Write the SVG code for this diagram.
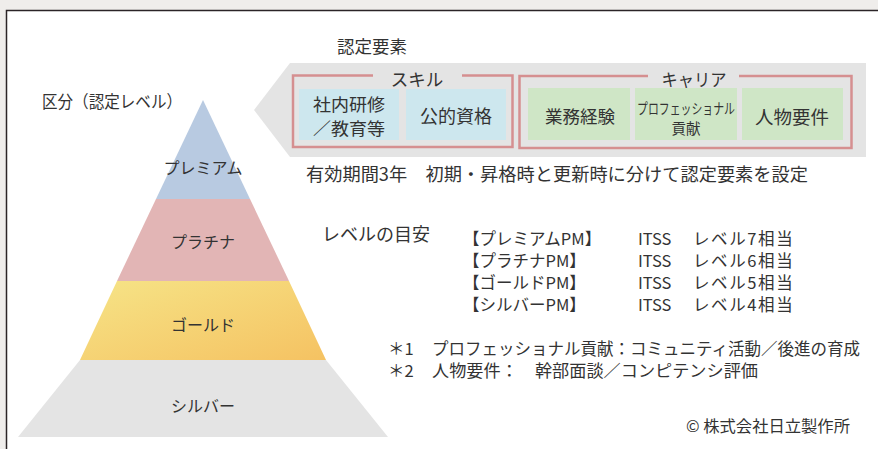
<svg xmlns="http://www.w3.org/2000/svg" width="878" height="449" viewBox="0 0 878 449">
<defs>
<linearGradient id="gold" x1="0" y1="0" x2="1" y2="1">
<stop offset="0" stop-color="#f6e487"/>
<stop offset="1" stop-color="#f5c262"/>
</linearGradient>
<style>
text{font-family:"Noto Sans CJK JP","Noto Sans",sans-serif;fill:#333;dominant-baseline:central}
.c{text-anchor:middle}
.frame{fill:none;stroke:#d58f90;stroke-width:2.5}
.skill{fill:#cde7ee}
.career{fill:#cfe6c6}
.t18{font-size:18px}
.t17{font-size:17px}
.t16{font-size:16px}
.l{font-size:16.5px}
</style>
</defs>
<rect x="0" y="0" width="878" height="449" fill="#efedeb"/>
<rect x="7" y="10" width="872" height="440" fill="#ffffff"/>
<path d="M6.5 449 V10.5 H878" fill="none" stroke="#2b2427" stroke-width="1.5"/>

<g id="pyramid">
<polygon points="203,100 250,199 156,199" fill="#b8cae1"/>
<polygon points="156,199 250,199 289,281 117,281" fill="#e2b5b5"/>
<polygon points="117,281 289,281 326,360 80,360" fill="url(#gold)"/>
<polygon points="80,360 326,360 388,437 18,437" fill="#e4e4e4"/>
<text class="c t16" x="203" y="167">プレミアム</text>
<text class="c t16" x="203" y="241">プラチナ</text>
<text class="c t16" x="203" y="324">ゴールド</text>
<text class="c t16" x="203" y="405">シルバー</text>
</g>
<text class="t17" x="42" y="100" textLength="140" lengthAdjust="spacingAndGlyphs">区分（認定レベル）</text>
<text style="font-size:17.5px" x="337" y="45">認定要素</text>

<g id="elements">
<polygon points="254,110 290,63 866,63 866,157 290,157" fill="#e4e4e4"/>
<g id="skill">
<path class="frame" d="M373 75.5 H293 V147 H512.5 V75.5 H462"/>
<text class="c" style="font-size:17.5px" x="417" y="78">スキル</text>
<rect class="skill" x="299" y="89" width="100" height="51"/>
<rect class="skill" x="406" y="89" width="100" height="51"/>
<text class="c t17"><tspan x="349" y="103" textLength="72" lengthAdjust="spacingAndGlyphs">社内研修</tspan><tspan x="349" y="127" textLength="72" lengthAdjust="spacingAndGlyphs">／教育等</tspan></text>
<text class="c t18" x="456" y="115">公的資格</text>
</g>
<g id="career">
<path class="frame" d="M648 76 H519.5 V148 H851.5 V76 H739"/>
<text class="c" style="font-size:17.5px" x="694" y="78" textLength="65" lengthAdjust="spacingAndGlyphs">キャリア</text>
<rect class="career" x="528" y="88" width="102" height="52"/>
<rect class="career" x="635" y="88" width="102" height="52"/>
<rect class="career" x="742" y="88" width="101" height="52"/>
<text class="c" style="font-size:17.5px" x="580" y="115">業務経験</text>
<text class="c" style="font-size:14.5px" x="686" y="107" textLength="98" lengthAdjust="spacingAndGlyphs">プロフェッショナル</text>
<text class="c" style="font-size:14.5px" x="686" y="127">貢献</text>
<text class="c" style="font-size:18.5px" x="792" y="116">人物要件</text>
</g>
</g>

<text class="t18" x="306" y="173" textLength="502" lengthAdjust="spacingAndGlyphs">有効期間3年　初期・昇格時と更新時に分けて認定要素を設定</text>

<g id="levels">
<text class="t18" x="322" y="233">レベルの目安</text>
<text class="l"><tspan x="463" y="238">【プレミアムPM】</tspan><tspan x="463" y="260">【プラチナPM】</tspan><tspan x="463" y="282">【ゴールドPM】</tspan><tspan x="463" y="304">【シルバーPM】</tspan></text>
<text class="l"><tspan x="638" y="238">ITSS</tspan><tspan x="638" y="260">ITSS</tspan><tspan x="638" y="282">ITSS</tspan><tspan x="638" y="304">ITSS</tspan></text>
<text class="l" style="letter-spacing:1.6px"><tspan x="693" y="238">レベル7相当</tspan><tspan x="693" y="260">レベル6相当</tspan><tspan x="693" y="282">レベル5相当</tspan><tspan x="693" y="304">レベル4相当</tspan></text>
</g>

<g id="notes">
<text class="l"><tspan x="388" y="348">＊1</tspan><tspan x="432" y="348" textLength="428" lengthAdjust="spacingAndGlyphs">プロフェッショナル貢献：コミュニティ活動／後進の育成</tspan><tspan x="388" y="370">＊2</tspan><tspan x="432" y="370" textLength="326" lengthAdjust="spacingAndGlyphs">人物要件：　幹部面談／コンピテンシ評価</tspan></text>
<text style="font-size:16px" x="686" y="425" textLength="164" lengthAdjust="spacingAndGlyphs">© 株式会社日立製作所</text>
</g>
</svg>
